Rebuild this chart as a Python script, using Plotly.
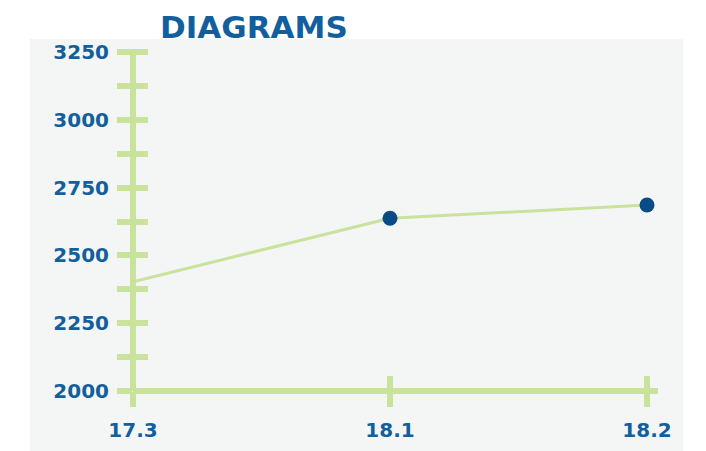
import plotly.graph_objects as go

categories = ["17.3", "18.1", "18.2"]
values = [2403, 2637, 2686]
y_tick_values = [2000, 2125, 2250, 2375, 2500, 2625, 2750, 2875, 3000, 3125, 3250]
y_tick_labels = ["2000", "", "2250", "", "2500", "", "2750", "", "3000", "", "3250"]

GREEN = "#c9e29c"
BLUE = "#135f9e"
MARKER = "#084b87"
BG = "#f4f6f6"
FONT = "DejaVu Sans"

x_idx = list(range(len(categories)))

fig = go.Figure()
fig.add_trace(go.Scatter(
    x=x_idx, y=values, mode="lines+markers",
    line=dict(color=GREEN, width=3),
    marker=dict(color=MARKER, size=[0, 15, 15], opacity=1, line=dict(width=0)),
    showlegend=False, hoverinfo="skip", cliponaxis=False,
))
# helper trace so the overlaying axes (inner half of the ticks) are rendered
fig.add_trace(go.Scatter(
    x=x_idx, y=values, mode="markers", marker=dict(opacity=0, size=1),
    xaxis="x2", yaxis="y2", showlegend=False, hoverinfo="skip",
))

W, H = 706, 451
ml, mr, mt, mb = 125, 56, 41, 68
pw, ph = W - ml - mr, H - mt - mb
XPX = 257.0      # px per category step
YPX = 0.2712     # px per value unit
xrange_ = [0, pw / XPX]
yrange_ = [2000, 2000 + ph / YPX]

axis_common = dict(showgrid=False, zeroline=False, showline=False,
                   tickcolor=GREEN, tickwidth=6, ticklen=15)

fig.update_layout(
    width=W, height=H,
    margin=dict(l=ml, r=mr, t=mt, b=mb, autoexpand=False),
    paper_bgcolor="white", plot_bgcolor="rgba(0,0,0,0)",
    title=dict(text="DIAGRAMS", font=dict(family=FONT, size=31, color=BLUE, weight="bold"),
               xref="container", x=152 / W, xanchor="left",
               yref="container", y=1 - 19 / H, yanchor="middle"),
    xaxis=dict(range=xrange_, tickvals=x_idx, ticktext=categories, ticks="outside",
               tickfont=dict(family=FONT, size=20, color=BLUE, weight="bold"),
               ticklabelstandoff=6, **axis_common),
    xaxis2=dict(range=xrange_, tickvals=x_idx, ticks="inside", overlaying="x", anchor="y2",
                side="bottom", showticklabels=False, **axis_common),
    yaxis=dict(range=yrange_, tickvals=y_tick_values, ticktext=y_tick_labels, ticks="outside",
               tickfont=dict(family=FONT, size=20, color=BLUE, weight="bold"),
               ticklabelstandoff=4, **axis_common),
    yaxis2=dict(range=yrange_, tickvals=y_tick_values, ticks="inside", overlaying="y", anchor="x2",
                side="left", showticklabels=False, **axis_common),
    shapes=[
        dict(type="rect", xref="paper", yref="paper",
             x0=(22 - ml) / pw, x1=(675 - ml) / pw,
             y0=(H - mb - 443) / ph, y1=(H - mb - 31) / ph,
             fillcolor=BG, line=dict(width=0), layer="below"),
        # axis lines
        dict(type="line", xref="paper", yref="paper", x0=0, x1=0, y0=0, y1=1,
             line=dict(color=GREEN, width=6), layer="above"),
        dict(type="line", xref="paper", yref="paper", x0=0, x1=1, y0=0, y1=0,
             line=dict(color=GREEN, width=6), layer="above"),
    ],
)

fig.write_html("out.html")
